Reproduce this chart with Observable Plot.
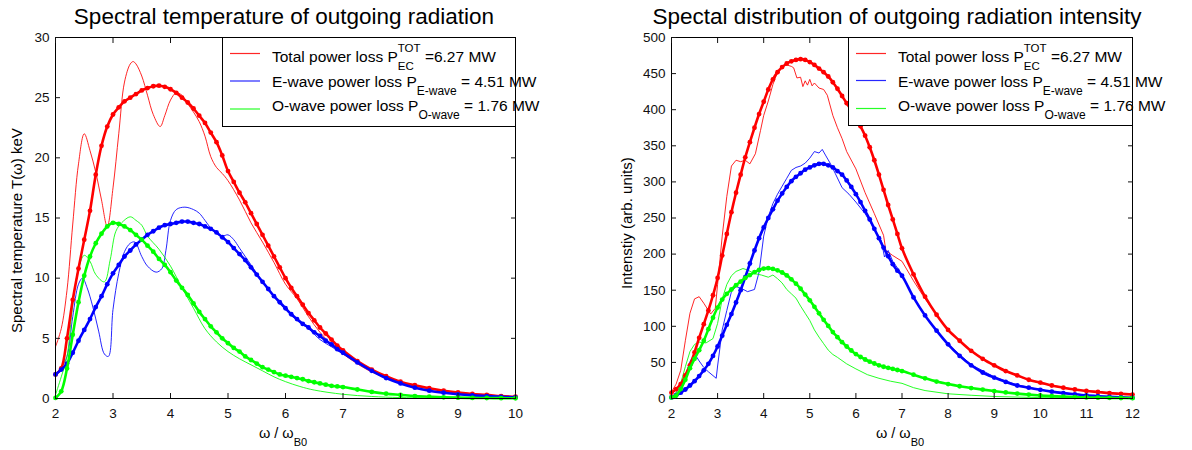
<!DOCTYPE html>
<html><head><meta charset="utf-8">
<script src="https://cdn.jsdelivr.net/npm/d3@7"></script>
<script src="https://cdn.jsdelivr.net/npm/@observablehq/plot@0.6"></script>
<style>
html,body{margin:0;padding:0;background:#fff;}
#wrap{position:relative;width:1192px;height:450px;font-family:"Liberation Sans",Arial,Helvetica,sans-serif;}
#left,#right{position:absolute;top:0;}
#left{left:0}#right{left:596px}
#ov{position:absolute;left:0;top:0;}
#ov text{font-family:"Liberation Sans",Arial,Helvetica,sans-serif;fill:#000;}
</style></head><body>
<div id="wrap"><div id="left"></div><div id="right"></div><svg id="ov" width="1192" height="450"></svg></div>
<script>
// ---------- tick labels ----------
const leftXTicks = [2,3,4,5,6,7,8,9,10];
const leftYTicks = [0,5,10,15,20,25,30];
const rightXTicks = [2,3,4,5,6,7,8,9,10,11,12];
const rightYTicks = [0,50,100,150,200,250,300,350,400,450,500];

// ---------- legend texts ----------
const legendNames = ["Total power loss P", "E-wave power loss P", "O-wave power loss P"];
const legendSubs = ["EC", "E-wave", "O-wave"];
const legendSup = "TOT";
const legendValues = [" =6.27 MW", " = 4.51 MW", " = 1.76 MW"];
const colors = ["#ff0000", "#0000ff", "#00ff00"];

// ---------- LEFT PANEL: spectral temperature (keV) ----------
const thickXLeft = [2.0,2.1,2.2,2.3,2.4,2.5,2.6,2.7,2.8,2.9,3.0,3.1,3.2,3.3,3.4,3.5,3.6,3.7,3.8,3.9,4.0,4.1,4.2,4.3,4.4,4.5,4.6,4.7,4.8,4.9,5.0,5.1,5.2,5.3,5.4,5.5,5.6,5.7,5.8,5.9,6.0,6.1,6.2,6.3,6.4,6.5,6.6,6.7,6.8,6.9,7.0,7.25,7.5,7.75,8.0,8.25,8.5,8.75,9.0,9.25,9.5,9.75,10];
const tempTotSmooth = [2.0,2.5,5.0,8.2,10.8,13.2,15.6,18.6,21.0,22.6,23.6,24.2,24.7,25.0,25.3,25.6,25.8,25.95,26.0,25.9,25.7,25.4,25.0,24.6,24.1,23.5,22.9,22.1,21.3,20.2,18.9,18.0,17.1,16.3,15.4,14.5,13.6,12.7,11.8,10.9,10.0,9.2,8.5,7.8,7.1,6.5,5.9,5.4,4.9,4.4,4.0,3.1,2.4,1.85,1.4,1.1,0.85,0.65,0.5,0.38,0.3,0.2,0.15];
const tempEwSmooth = [2.0,2.4,2.9,3.8,4.8,5.7,6.6,7.6,8.5,9.5,10.4,11.1,11.8,12.3,12.8,13.2,13.6,13.9,14.2,14.4,14.5,14.6,14.7,14.7,14.6,14.5,14.3,14.1,13.8,13.4,13.0,12.5,12.0,11.5,10.9,10.3,9.7,9.1,8.5,8.0,7.5,7.0,6.6,6.2,5.9,5.5,5.2,4.8,4.5,4.1,3.8,3.0,2.3,1.7,1.25,0.9,0.65,0.48,0.35,0.26,0.2,0.14,0.1];
const tempOwSmooth = [0.05,0.6,2.5,5.3,8.0,10.2,11.8,12.9,13.7,14.3,14.6,14.5,14.3,14.0,13.6,13.2,12.7,12.2,11.6,11.1,10.5,9.8,9.2,8.6,7.9,7.2,6.6,6.0,5.5,5.0,4.6,4.2,3.9,3.5,3.2,2.9,2.6,2.4,2.2,2.0,1.9,1.8,1.7,1.6,1.45,1.35,1.25,1.15,1.05,1.0,0.95,0.75,0.55,0.4,0.3,0.2,0.15,0.1,0.07,0.05,0.04,0.03,0.02];

const tempTotX = [2.0,2.1,2.2,2.3,2.4,2.5,2.6,2.7,2.8,2.9,3.0,3.1,3.2,3.3,3.35,3.4,3.5,3.6,3.7,3.82,3.9,4.0,4.1,4.2,4.3,4.4,4.5,4.6,4.7,4.8,4.9,5.0,5.2,5.4,5.6,5.8,6.0,6.2,6.4,6.6,6.8,7.0,7.5,8.0,8.5,9.0,9.5,10];
const tempTot = [4.3,5.8,9.0,14.5,19.5,22.0,20.6,18.8,16.5,14.3,17.5,22.0,26.3,27.8,28.0,27.8,26.8,25.2,23.6,22.6,23.5,24.8,25.4,25.2,24.5,23.8,23.0,21.8,20.1,19.2,18.7,18.1,16.5,14.6,13.0,11.3,9.5,8.3,6.8,5.5,4.5,3.7,2.2,1.35,0.8,0.5,0.3,0.15];
const tempEwX = [2.0,2.1,2.2,2.3,2.4,2.47,2.55,2.65,2.75,2.85,2.92,3.0,3.1,3.2,3.3,3.38,3.5,3.6,3.75,3.85,3.92,4.0,4.1,4.25,4.4,4.5,4.6,4.75,4.9,5.0,5.1,5.2,5.4,5.6,5.8,6.0,6.2,6.4,6.6,6.8,7.0,7.5,8.0,8.5,9.0,9.5,10];
const tempEw = [2.0,2.6,3.5,6.8,9.5,10.0,9.2,7.6,5.6,3.7,3.5,7.4,10.4,12.2,12.9,13.0,11.8,11.0,10.5,10.8,12.3,14.8,15.7,15.9,15.7,15.4,14.8,13.9,13.5,13.6,13.2,12.5,11.1,9.7,8.5,7.4,6.5,5.8,4.9,4.3,3.7,2.3,1.25,0.65,0.35,0.2,0.1];
const tempOwX = [2.0,2.1,2.2,2.3,2.4,2.5,2.6,2.7,2.85,2.95,3.05,3.15,3.3,3.4,3.5,3.6,3.8,4.0,4.2,4.4,4.6,4.8,5.0,5.2,5.4,5.6,5.8,6.0,6.25,6.5,7.0,7.5,8.0,9.0,10];
const tempOw = [0.3,1.8,3.5,7.8,10.8,11.9,11.4,10.3,9.7,11.5,13.9,14.6,15.1,14.8,14.4,13.5,12.4,11.0,9.2,7.5,5.8,4.7,3.9,3.3,2.8,2.3,1.8,1.4,1.0,0.7,0.35,0.17,0.08,0.03,0.01];

// ---------- RIGHT PANEL: intensity (arb. units) ----------
const thickXRight = [2.0,2.1,2.2,2.3,2.4,2.5,2.6,2.7,2.8,2.9,3.0,3.1,3.2,3.3,3.4,3.5,3.6,3.7,3.8,3.9,4.0,4.1,4.2,4.3,4.4,4.5,4.6,4.7,4.8,4.9,5.0,5.1,5.2,5.3,5.4,5.5,5.6,5.7,5.8,5.9,6.0,6.1,6.2,6.3,6.4,6.5,6.6,6.7,6.8,6.9,7.0,7.25,7.5,7.75,8.0,8.25,8.5,8.75,9.0,9.25,9.5,9.75,10,10.25,10.5,10.75,11,11.25,11.5,11.75,12];
const intTotSmooth = [8,13,20,32,46,64,84,103,122,143,167,198,228,258,285,310,334,355,375,394,411,428,442,452,459,464,467,469,470,469,466,462,457,452,446,438,429,419,409,399,388,377,364,348,330,310,289,268,248,228,208,172,141,116,95,80,66,55,46,38,32,26,22,18,15,12.5,10.5,9,7.5,6.5,5.5];
const intEwSmooth = [1.5,4.5,8,12.5,18,24,31,39,48,59,72,87,102,117,133,150,168,187,205,222,237,250,262,274,284,293,301,307,312,317,320,323,325,325,323,320,315,310,302,293,283,272,260,248,235,222,209,197,186,177,170,140,115,94,75,59,46,36,29,23,18,15,12,9.5,7.5,5.8,4.3,3.2,2.3,1.6,1];
const intOwSmooth = [1.5,4,13,26,42,55,67,80,96,112,126,137,145,151,157,162,167,171,175,178,180,180.5,179.5,177.5,174.5,170.5,165,159,152,144,136,127,118,109,100.5,92,85,78,72,66.5,61.5,57.5,54,51,48.5,46,44,42.5,41,39.5,38,33,28,23.5,20,17,14.5,12.3,10.3,8.4,6.8,5.4,4.2,3.3,2.6,2.0,1.5,1.2,0.9,0.7,0.5];

const intTotX = [2.0,2.1,2.2,2.3,2.4,2.5,2.6,2.7,2.85,2.95,3.0,3.1,3.2,3.3,3.4,3.5,3.6,3.7,3.82,3.93,4.0,4.1,4.2,4.3,4.4,4.5,4.6,4.65,4.72,4.8,4.85,4.9,4.95,5.0,5.05,5.1,5.2,5.3,5.38,5.5,5.6,5.7,5.8,6.0,6.2,6.4,6.6,6.65,6.8,7.0,7.25,7.5,7.75,8.0,8.5,9.0,9.5,10,11,12];
const intTot = [9,20,39,80,118,138,141,132,117,125,158,225,280,322,330,328,330,325,339,371,392,412,435,452,460,462,460,458,444,445,432,440,434,442,433,437,430,428,420,392,375,360,342,318,285,256,226,205,198,190,163,138,116,94,65,45,31,21,10,5];
const intEwX = [2.0,2.1,2.2,2.3,2.4,2.5,2.6,2.7,2.8,2.97,3.0,3.1,3.2,3.3,3.4,3.5,3.65,3.8,3.9,4.0,4.1,4.2,4.3,4.4,4.5,4.6,4.7,4.8,4.9,5.0,5.1,5.2,5.27,5.35,5.45,5.55,5.7,5.85,6.0,6.2,6.4,6.55,6.62,6.7,6.8,7.0,7.25,7.5,7.75,8.0,8.5,9.0,9.5,10,11,12];
const intEw = [2,8,16,32,51,62,52,43,37,28,45,95,122,148,155,153,148,151,175,225,252,270,283,294,305,316,320,322,326,333,342,340,345,336,325,312,292,283,272,256,235,219,196,205,190,172,140,115,94,75,47,30,19,12,4,1];
const intOwX = [2.0,2.1,2.2,2.3,2.4,2.5,2.6,2.75,2.9,3.0,3.1,3.2,3.3,3.4,3.55,3.65,3.8,3.95,4.1,4.2,4.3,4.4,4.5,4.6,4.7,4.8,4.9,5.0,5.1,5.2,5.3,5.4,5.5,5.6,5.8,6.0,6.25,6.5,6.75,7.0,7.25,7.5,8.0,8.5,9.0,10,11,12];
const intOw = [1.5,8,21,44,65,75,78,77,83,104,138,158,170,176,180,178,173,171,168,171,166,160,151,145,139,128,118,108,95,85,76,67,61,57,48,41,33,28,24,21,15,11,6.5,4.5,2.8,1.2,0.6,0.3];

// ---------- helpers ----------
const rows = (xs, ys) => xs.map((x, i) => ({x, y: ys[i]}));

function panel({xDomain, yDomain, xTicks, yTicks, mL, mR, thin, thinCurve, thickX, thick}) {
  const marks = [];
  thin.forEach((s, i) => marks.push(Plot.line(rows(s[0], s[1]), {x: "x", y: "y", stroke: colors[i], strokeWidth: 1, strokeOpacity: 0.85, curve: thinCurve})));
  thick.forEach((ys, i) => {
    const d = rows(thickX, ys);
    marks.push(Plot.line(d, {x: "x", y: "y", stroke: colors[i], strokeWidth: 2.6, curve: "catmull-rom"}));
    marks.push(Plot.dot(d, {x: "x", y: "y", r: 2.4, fill: colors[i]}));
  });
  marks.push(Plot.frame({stroke: "black"}));
  marks.push(Plot.axisX({ticks: xTicks, anchor: "bottom", tickSize: -5, tickPadding: 15, label: null}));
  marks.push(Plot.axisX({ticks: xTicks, anchor: "top", tickSize: -5, tickFormat: () => "", label: null}));
  marks.push(Plot.axisY({ticks: yTicks, anchor: "left", tickSize: -5, tickPadding: 11, label: null}));
  marks.push(Plot.axisY({ticks: yTicks, anchor: "right", tickSize: -5, tickFormat: () => "", label: null}));
  return Plot.plot({
    width: 596, height: 450,
    marginLeft: mL, marginRight: mR, marginTop: 37, marginBottom: 52,
    x: {domain: xDomain}, y: {domain: yDomain},
    style: {background: "transparent", color: "#111", fontSize: "13.5px", fontFamily: "Liberation Sans, Arial, sans-serif", overflow: "visible"},
    marks
  });
}

document.getElementById("left").append(panel({
  xDomain: [2, 10], yDomain: [0, 30], xTicks: leftXTicks, yTicks: leftYTicks, mL: 55, mR: 81,
  thin: [[tempTotX, tempTot], [tempEwX, tempEw], [tempOwX, tempOw]], thinCurve: "catmull-rom",
  thickX: thickXLeft, thick: [tempTotSmooth, tempEwSmooth, tempOwSmooth]
}));
document.getElementById("right").append(panel({
  xDomain: [2, 12], yDomain: [0, 500], xTicks: rightXTicks, yTicks: rightYTicks, mL: 75, mR: 60,
  thin: [[intTotX, intTot], [intEwX, intEw], [intOwX, intOw]], thinCurve: "linear",
  thickX: thickXRight, thick: [intTotSmooth, intEwSmooth, intOwSmooth]
}));

// ---------- overlay text ----------
const ov = d3.select("#ov");
function rich(g, parts) {
  let cx = 0;
  for (const p of parts) {
    if (p.stack) {
      let w = 0;
      for (const s of p.stack) {
        const t = g.append("text").attr("x", cx).attr("y", s.dy).attr("font-size", s.size).text(s.t);
        w = Math.max(w, t.node().getComputedTextLength());
      }
      cx += w;
    } else {
      const t = g.append("text").attr("x", cx).attr("y", p.dy || 0).attr("font-size", p.size).style("white-space", "pre").text(p.t);
      cx += t.node().getComputedTextLength();
    }
  }
  return cx;
}

// titles
ov.append("text").attr("x", 284).attr("y", 24).attr("text-anchor", "middle").attr("font-size", 22.5).text("Spectral temperature of outgoing radiation");
ov.append("text").attr("x", 897).attr("y", 24).attr("text-anchor", "middle").attr("font-size", 22.5).text("Spectal distribution of outgoing radiation intensity");

// x labels
for (const cx of [283, 900]) {
  const g = ov.append("g");
  const w = rich(g, [{t: "ω / ω", size: 14.5}, {t: "B0", size: 11, dy: 8}]);
  g.attr("transform", `translate(${cx - w / 2},438)`);
}
// y labels
ov.append("text").attr("transform", "translate(22,333) rotate(-90)").attr("font-size", 15).text("Spectral temperature T(ω) keV");
ov.append("text").attr("transform", "translate(632,289) rotate(-90)").attr("font-size", 15).text("Intenstiy (arb. units)");

// legends
function legend(x0, x1, y0, y1, sampleYs, baseYs) {
  ov.append("rect").attr("x", x0 + 0.5).attr("y", y0 + 0.5).attr("width", x1 - x0).attr("height", y1 - y0)
    .attr("fill", "white").attr("stroke", "black").attr("stroke-width", 1);
  for (let i = 0; i < 3; i++) {
    ov.append("line").attr("x1", x0 + 8).attr("x2", x0 + 38).attr("y1", sampleYs[i]).attr("y2", sampleYs[i])
      .attr("stroke", colors[i]).attr("stroke-width", 1.2).attr("stroke-opacity", 0.85);
    const g = ov.append("g").attr("transform", `translate(${x0 + 50},${baseYs[i]})`);
    const parts = [{t: legendNames[i], size: 15.5}];
    if (i === 0) parts.push({stack: [{t: legendSup, size: 11.5, dy: -10.5}, {t: legendSubs[i], size: 11.5, dy: 7.5}]});
    else parts.push({t: legendSubs[i], size: 12, dy: 8.5});
    parts.push({t: legendValues[i], size: 15.5});
    rich(g, parts);
  }
}
legend(222, 515, 37, 126, [53.5, 81, 109], [62, 86.5, 110.5]);
legend(848, 1132, 37, 125, [53.5, 80.5, 108.5], [62, 86.5, 110.5]);
</script>
</body></html>
